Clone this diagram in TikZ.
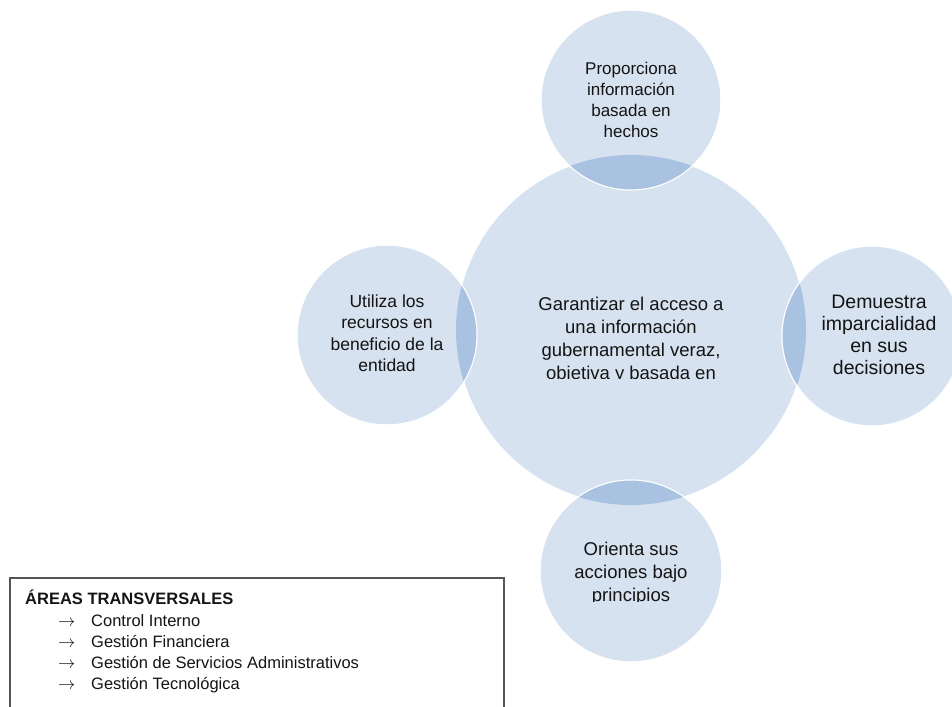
\documentclass[tikz,border=0pt]{standalone}
\usepackage{fontspec}
\setmainfont{Liberation Sans}
\definecolor{cfill}{RGB}{214,226,240}
\definecolor{cover}{RGB}{170,194,225}
\definecolor{boxline}{RGB}{85,85,85}
\definecolor{ink}{RGB}{20,20,20}
\begin{document}
\begin{tikzpicture}[x=1pt,y=-1pt,
  bub/.style={circle, fill=cfill, draw=white, line width=1pt, inner sep=0pt, minimum size=#1},
  smalltxt/.style={align=center, text=ink, inner sep=0pt, font=\fontsize{17}{21}\selectfont},
  bigtxt/.style={align=center, text=ink, inner sep=0pt, font=\fontsize{18.5}{23}\selectfont},
  boxtxt/.style={anchor=base west, text=ink, inner sep=0pt, font=\fontsize{16.5}{20}\selectfont}]
\clip (0,0) rectangle (952,706);
% circles
\node[bub=350pt] (mid) at (631,330) {};
\node[bub=180pt] (top) at (631,100) {};
\node[bub=180pt] (lft) at (387,335) {};
\node[bub=180pt] (rgt) at (872,336) {};
\node[bub=182pt] (bot) at (631,571) {};
% overlaps
\foreach \n/\r in {top/90pt,lft/90pt,rgt/90pt,bot/91pt}{
  \begin{scope}
    \clip (\n.center) circle[radius=\r];
    \fill[cover] (mid.center) circle[radius=175pt];
  \end{scope}
  \draw[white, line width=1pt] (\n.center) circle[radius=\r];
}
% texts
\node[smalltxt] (topt) at (top.center) {Proporciona\\información\\basada en\\hechos};
\node[smalltxt, font=\fontsize{17.5}{21.5}\selectfont] (lftt) at (387,333) {Utiliza los\\recursos en\\beneficio de la\\entidad};
\node[smalltxt, font=\fontsize{19.5}{22}\selectfont] (rgtt) at (879,335) {Demuestra\\imparcialidad\\en sus\\decisiones};
\begin{scope}
  \clip (0,0) rectangle (952,378);
  \node[bigtxt] (midt) at (631,340) {Garantizar el acceso a\\una información\\gubernamental veraz,\\objetiva y basada en};
\end{scope}
\begin{scope}
  \clip (0,0) rectangle (952,601);
  \node[bigtxt] (bott) at (631,574) {Orienta sus\\acciones bajo\\principios};
\end{scope}
% legend box
\draw[boxline, line width=1.4pt] (10,730) -- (10,578) -- (504,578) -- (504,730);
\node[boxtxt, font=\fontsize{16.5}{20}\selectfont\bfseries] (ttl) at (25,604) {ÁREAS TRANSVERSALES};
\node[boxtxt] (i1) at (58,626) {\makebox[33pt][l]{\fontsize{19}{19}\selectfont$\rightarrow$}Control Interno};
\node[boxtxt] (i2) at (58,647) {\makebox[33pt][l]{\fontsize{19}{19}\selectfont$\rightarrow$}Gestión Financiera};
\node[boxtxt] (i3) at (58,668) {\makebox[33pt][l]{\fontsize{19}{19}\selectfont$\rightarrow$}Gestión de Servicios Administrativos};
\node[boxtxt] (i4) at (58,689) {\makebox[33pt][l]{\fontsize{19}{19}\selectfont$\rightarrow$}Gestión Tecnológica};
\end{tikzpicture}
\end{document}
